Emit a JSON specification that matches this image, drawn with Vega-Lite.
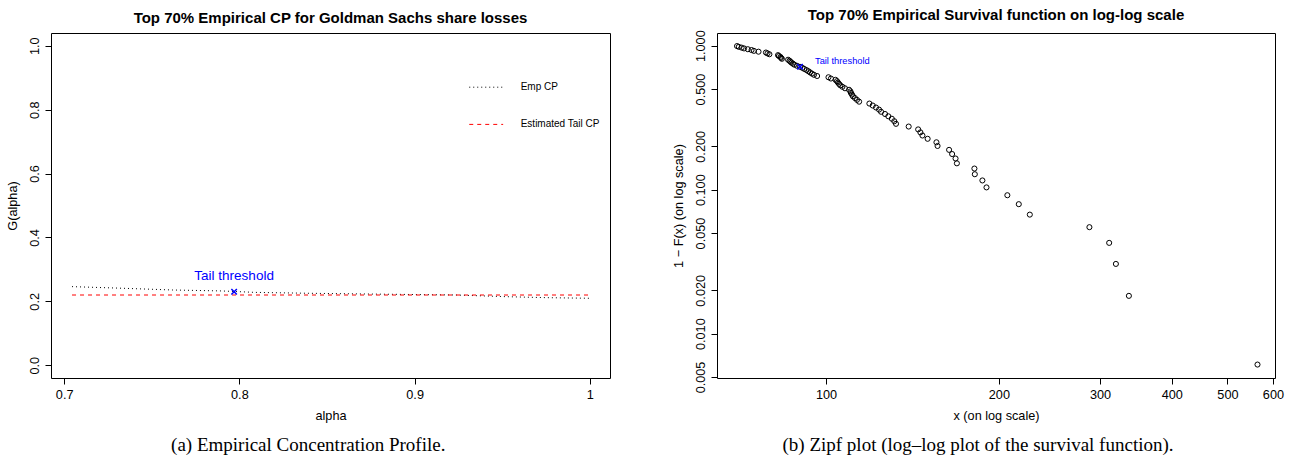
{
  "$schema": "https://vega.github.io/schema/vega-lite/v6.json",
  "background": "white",
  "padding": {"left": 6, "top": 7, "right": 13, "bottom": 4},
  "spacing": 61,
  "datasets": {
    "cp": [
      {"alpha": 0.7045, "G": 0.246, "series": "Emp CP"},
      {"alpha": 0.733, "G": 0.241, "series": "Emp CP"},
      {"alpha": 0.762, "G": 0.2355, "series": "Emp CP"},
      {"alpha": 0.79, "G": 0.2325, "series": "Emp CP"},
      {"alpha": 0.809, "G": 0.228, "series": "Emp CP"},
      {"alpha": 0.84, "G": 0.2252, "series": "Emp CP"},
      {"alpha": 0.88, "G": 0.2225, "series": "Emp CP"},
      {"alpha": 0.923, "G": 0.2199, "series": "Emp CP"},
      {"alpha": 0.952, "G": 0.2146, "series": "Emp CP"},
      {"alpha": 0.975, "G": 0.2115, "series": "Emp CP"},
      {"alpha": 1.0, "G": 0.2096, "series": "Emp CP"},
      {"alpha": 0.7045, "G": 0.2198, "series": "Estimated Tail CP"},
      {"alpha": 1.0, "G": 0.2198, "series": "Estimated Tail CP"}
    ],
    "thrA": [{"alpha": 0.797, "G": 0.2302, "label": "Tail threshold"}],
    "thrB": [{"loss": 90.1, "surv": 0.7134, "label": "Tail threshold"}],
    "zipf": [
      {"loss": 564, "surv": 0.0061},
      {"loss": 336.8, "surv": 0.0183},
      {"loss": 319.7, "surv": 0.0305},
      {"loss": 311.2, "surv": 0.0427},
      {"loss": 287.5, "surv": 0.0549},
      {"loss": 226.4, "surv": 0.0671},
      {"loss": 216.6, "surv": 0.0793},
      {"loss": 206.9, "surv": 0.0915},
      {"loss": 190.3, "surv": 0.1037},
      {"loss": 187.2, "surv": 0.1159},
      {"loss": 181.6, "surv": 0.128},
      {"loss": 181.3, "surv": 0.1402},
      {"loss": 169.0, "surv": 0.1524},
      {"loss": 168.1, "surv": 0.1646},
      {"loss": 165.8, "surv": 0.1768},
      {"loss": 163.8, "surv": 0.189},
      {"loss": 156.4, "surv": 0.2012},
      {"loss": 155.7, "surv": 0.2134},
      {"loss": 150.3, "surv": 0.2256},
      {"loss": 147.2, "surv": 0.2378},
      {"loss": 146.0, "surv": 0.25},
      {"loss": 144.7, "surv": 0.2622},
      {"loss": 139.3, "surv": 0.2744},
      {"loss": 132.4, "surv": 0.2866},
      {"loss": 131.5, "surv": 0.2988},
      {"loss": 130.2, "surv": 0.311},
      {"loss": 128.4, "surv": 0.3232},
      {"loss": 126.7, "surv": 0.3354},
      {"loss": 124.7, "surv": 0.3476},
      {"loss": 123.7, "surv": 0.3598},
      {"loss": 122.2, "surv": 0.372},
      {"loss": 120.6, "surv": 0.3841},
      {"loss": 119.0, "surv": 0.3963},
      {"loss": 114.2, "surv": 0.4085},
      {"loss": 113.2, "surv": 0.4207},
      {"loss": 112.3, "surv": 0.4329},
      {"loss": 111.4, "surv": 0.4451},
      {"loss": 111.0, "surv": 0.4573},
      {"loss": 110.5, "surv": 0.4695},
      {"loss": 110.3, "surv": 0.4817},
      {"loss": 109.7, "surv": 0.4939},
      {"loss": 107.9, "surv": 0.5061},
      {"loss": 106.8, "surv": 0.5183},
      {"loss": 105.9, "surv": 0.5305},
      {"loss": 105.4, "surv": 0.5427},
      {"loss": 104.9, "surv": 0.5549},
      {"loss": 104.5, "surv": 0.5671},
      {"loss": 103.9, "surv": 0.5793},
      {"loss": 102.0, "surv": 0.5915},
      {"loss": 101.0, "surv": 0.6037},
      {"loss": 96.5, "surv": 0.6159},
      {"loss": 95.3, "surv": 0.628},
      {"loss": 94.5, "surv": 0.6402},
      {"loss": 93.8, "surv": 0.6524},
      {"loss": 93.2, "surv": 0.6646},
      {"loss": 92.5, "surv": 0.6768},
      {"loss": 91.7, "surv": 0.689},
      {"loss": 91.0, "surv": 0.7012},
      {"loss": 90.1, "surv": 0.7134},
      {"loss": 89.0, "surv": 0.7256},
      {"loss": 88.1, "surv": 0.7378},
      {"loss": 87.6, "surv": 0.75},
      {"loss": 87.1, "surv": 0.7622},
      {"loss": 86.7, "surv": 0.7744},
      {"loss": 86.4, "surv": 0.7866},
      {"loss": 85.9, "surv": 0.7988},
      {"loss": 83.8, "surv": 0.811},
      {"loss": 83.5, "surv": 0.8232},
      {"loss": 83.3, "surv": 0.8354},
      {"loss": 82.8, "surv": 0.8476},
      {"loss": 82.5, "surv": 0.8598},
      {"loss": 79.7, "surv": 0.872},
      {"loss": 79.1, "surv": 0.8841},
      {"loss": 78.6, "surv": 0.8963},
      {"loss": 76.3, "surv": 0.9085},
      {"loss": 74.9, "surv": 0.9207},
      {"loss": 74.2, "surv": 0.9329},
      {"loss": 73.1, "surv": 0.9451},
      {"loss": 72.0, "surv": 0.9573},
      {"loss": 71.3, "surv": 0.9695},
      {"loss": 70.5, "surv": 0.9817},
      {"loss": 70.0, "surv": 0.9939}
    ]
  },
  "hconcat": [
    {
      "title": {"text": "(a) Empirical Concentration Profile.", "orient": "bottom", "font": "Liberation Serif", "fontSize": 19, "fontWeight": "normal", "frame": "bounds", "anchor": "middle", "offset": 13},
      "vconcat": [
        {
          "title": {"text": "Top 70% Empirical CP for Goldman Sachs share losses"},
          "width": 559,
          "height": 345,
          "encoding": {
            "x": {"field": "alpha", "type": "quantitative", "scale": {"domain": [0.6925, 1.0115], "nice": false, "zero": false}, "axis": {"title": "alpha", "values": [0.7, 0.8, 0.9, 1], "format": "~g"}},
            "y": {"field": "G", "type": "quantitative", "scale": {"domain": [-0.04, 1.04], "nice": false, "zero": false}, "axis": {"title": "G(alpha)", "values": [0, 0.2, 0.4, 0.6, 0.8, 1.0], "format": ".1f"}}
          },
          "layer": [
            {
              "data": {"name": "cp"},
              "mark": {"type": "line", "strokeWidth": 1},
              "encoding": {
                "color": {"field": "series", "type": "nominal", "scale": {"domain": ["Emp CP", "Estimated Tail CP"], "range": ["black", "red"]}, "legend": {"title": null}},
                "strokeDash": {"field": "series", "type": "nominal", "scale": {"domain": ["Emp CP", "Estimated Tail CP"], "range": [[1, 3], [4, 4]]}, "legend": {"title": null}}
              }
            },
            {
              "data": {"name": "thrA"},
              "mark": {"type": "point", "shape": "M-1,-1L1,1M-1,1L1,-1", "filled": false, "color": "blue", "size": 30, "strokeWidth": 1.5, "opacity": 1}
            },
            {
              "data": {"name": "thrA"},
              "mark": {"type": "text", "color": "blue", "font": "Liberation Sans", "fontSize": 13.5, "align": "center", "baseline": "middle", "dy": -15.7},
              "encoding": {"text": {"field": "label"}}
            }
          ]
        }
      ]
    },
    {
      "title": {"text": "(b) Zipf plot (log–log plot of the survival function).", "orient": "bottom", "font": "Liberation Serif", "fontSize": 19, "fontWeight": "normal", "frame": "bounds", "anchor": "middle", "offset": 13},
      "vconcat": [
        {
          "title": {"text": "Top 70% Empirical Survival function on log-log scale"},
          "width": 558,
          "height": 345,
          "encoding": {
            "x": {"field": "loss", "type": "quantitative", "scale": {"type": "log", "domain": [64.6, 605], "nice": false}, "axis": {"title": "x (on log scale)", "values": [100, 200, 300, 400, 500, 600], "format": "d"}},
            "y": {"field": "surv", "type": "quantitative", "scale": {"type": "log", "domain": [0.00492, 1.225], "nice": false}, "axis": {"title": "1 − F(x) (on log scale)", "values": [0.005, 0.01, 0.02, 0.05, 0.1, 0.2, 0.5, 1], "format": ".3f"}}
          },
          "layer": [
            {
              "data": {"name": "zipf"},
              "mark": {"type": "point", "shape": "circle", "filled": false, "color": "black", "size": 26, "strokeWidth": 1, "opacity": 1}
            },
            {
              "data": {"name": "thrB"},
              "mark": {"type": "point", "shape": "M-1,-1L1,1M-1,1L1,-1", "filled": false, "color": "blue", "size": 30, "strokeWidth": 1.5, "opacity": 1}
            },
            {
              "data": {"name": "thrB"},
              "mark": {"type": "text", "color": "blue", "font": "Liberation Sans", "fontSize": 9.3, "align": "left", "baseline": "middle", "dx": 15, "dy": -6},
              "encoding": {"text": {"field": "label"}}
            }
          ]
        }
      ]
    }
  ],
  "config": {
    "view": {"stroke": "black", "strokeWidth": 1},
    "title": {"font": "Liberation Sans", "fontSize": 15, "fontWeight": "bold", "color": "black", "frame": "group", "anchor": "middle", "offset": 7},
    "axis": {"domain": false, "grid": false, "ticks": true, "tickColor": "black", "tickSize": 6, "labelColor": "black", "labelFont": "Liberation Sans", "labelFontSize": 12.7, "titleFont": "Liberation Sans", "titleFontSize": 12.7, "titleFontWeight": "normal", "titleColor": "black"},
    "axisX": {"labelPadding": 4.6, "titlePadding": 8.2, "labelFlush": false, "labelOverlap": false},
    "axisY": {"labelAngle": -90, "labelPadding": 3.2, "titlePadding": 9.3, "labelOverlap": false},
    "legend": {"orient": "none", "legendX": 417.7, "legendY": 36.7, "symbolType": "stroke", "symbolSize": 1150, "symbolStrokeWidth": 1, "labelFont": "Liberation Sans", "labelFontSize": 10, "labelColor": "black", "labelOffset": 17, "rowPadding": 14.2, "padding": 0}
  }
}
